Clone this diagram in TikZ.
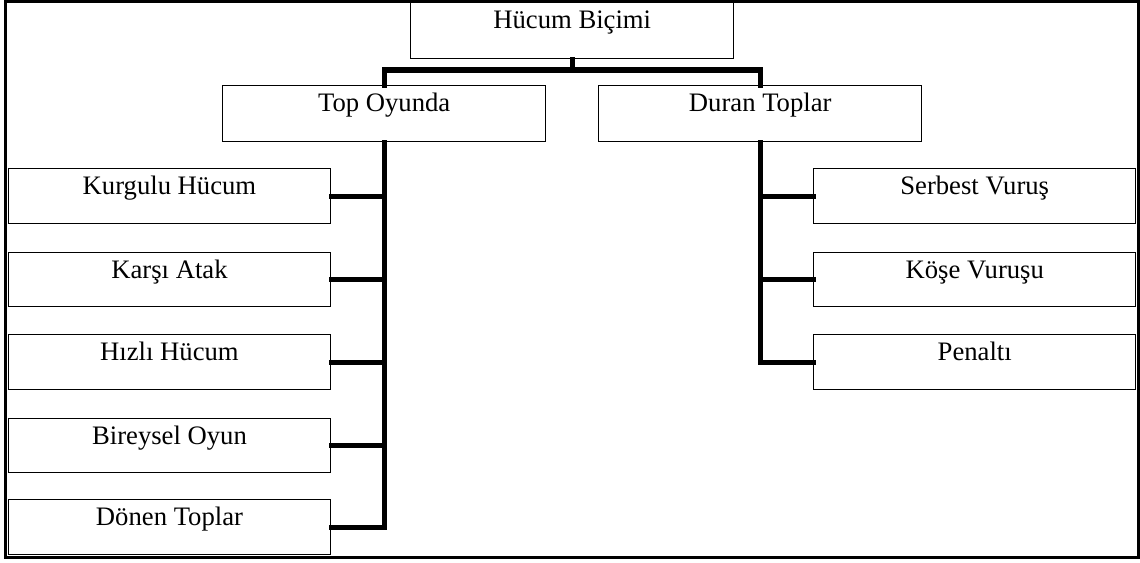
\documentclass[tikz,border=0pt]{standalone}
\usepackage{fontspec}
\setmainfont{Liberation Serif}
\begin{document}
\begin{tikzpicture}[x=0.75pt,y=-0.75pt,
  box/.style={draw, line width=1.1pt, inner sep=0pt, anchor=north west,
    text height=19pt, font=\fontsize{20pt}{24pt}\selectfont},
  h54/.style={text depth=21.5pt},
  h55/.style={text depth=22.25pt},
  h56/.style={text depth=23pt},
  wide/.style={minimum width=242.25pt},
  wleft/.style={minimum width=241.875pt},
  wright/.style={minimum width=241.5pt},
  conn/.style={line width=4pt, line cap=rect, line join=miter},
  frame/.style={line width=2.25pt}]
\useasboundingbox (0,0) rectangle (1140,563);
\draw[frame] (5.5,1.5) rectangle (1138.5,557);

% top level
\node[box, wide, h56] (hucum) at (410,2) {Hücum Biçimi};
\node[box, wide, h56] (topoy) at (222,85) {Top Oyunda};
\node[box, wide, h56] (duran) at (598,85) {Duran Toplar};

% left column
\node[box, wleft, h55] (kurgulu) at (7.5,168) {Kurgulu Hücum};
\node[box, wleft, h54] (karsi) at (7.5,252) {Karşı Atak};
\node[box, wleft, h55] (hizli) at (7.5,334) {Hızlı Hücum};
\node[box, wleft, h54] (bireysel) at (7.5,418) {Bireysel Oyun};
\node[box, wleft, h55] (donen) at (7.5,499) {Dönen Toplar};

% right column
\node[box, wright, h55] (serbest) at (813,168) {Serbest Vuruş};
\node[box, wright, h54] (kose) at (813,252) {Köşe Vuruşu};
\node[box, wright, h55] (penalti) at (813,334) {Penaltı};

% branch bar under the root
\coordinate (bar) at (0,70);
\draw[conn] (hucum.south) -- (hucum.south |- bar);
\draw[conn] (topoy.north) -- (topoy.north |- bar) -- (duran.north |- bar) -- (duran.north);

% left trunk
\draw[conn] (topoy.south) -- (topoy.south |- donen.east) -- (donen.east);
\foreach \n in {kurgulu,karsi,hizli,bireysel}
  \draw[conn] (\n.east) -- (\n.east -| topoy.south);

% right trunk
\draw[conn] (duran.south) -- (duran.south |- penalti.west) -- (penalti.west);
\foreach \n in {serbest,kose}
  \draw[conn] (\n.west) -- (\n.west -| duran.south);
\end{tikzpicture}
\end{document}
